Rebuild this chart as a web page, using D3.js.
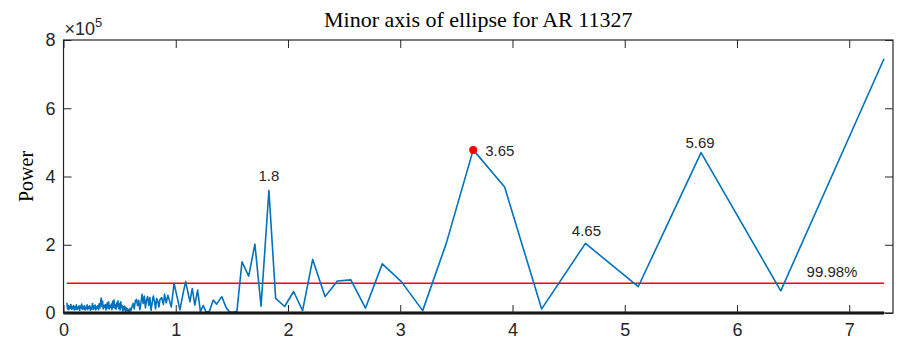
<!DOCTYPE html>
<html>
<head>
<meta charset="utf-8">
<script src="https://cdn.jsdelivr.net/npm/d3@7"></script>
<style>
html,body{margin:0;padding:0;background:#fff;}
svg{display:block;}
</style>
</head>
<body>
<svg id="chart" width="898" height="349"></svg>
<script>
// ---- data (power in units of 1e5) ----
const periods = [
0.030,0.036,0.042,0.048,0.054,0.060,0.066,0.072,0.078,0.084,0.090,0.096,0.102,0.108,0.114,0.120,0.126,0.132,0.138,0.144,
0.150,0.156,0.162,0.168,0.174,0.180,0.186,0.192,0.198,0.204,0.210,0.216,0.222,0.228,0.234,0.240,0.246,0.252,0.258,0.264,
0.270,0.276,0.282,0.288,0.294,0.300,0.306,0.312,0.318,0.324,0.330,0.336,0.342,0.348,0.354,0.360,0.366,0.372,0.378,0.384,
0.390,0.396,0.402,0.408,0.414,0.420,0.426,0.432,0.438,0.444,0.450,0.456,0.462,0.468,0.474,0.480,0.486,0.492,0.498,0.504,
0.510,0.516,0.522,0.528,0.534,0.540,0.546,0.552,0.558,0.564,0.570,0.576,0.582,0.588,0.594,0.600,
0.61,0.62,0.63,0.64,0.65,0.66,0.67,0.68,0.69,0.70,0.71,0.72,0.73,0.74,0.75,0.76,0.77,0.78,0.79,0.80,
0.81,0.82,0.83,0.84,0.85,0.86,0.875,0.89,0.90,0.915,0.93,0.945,0.96,
0.985,1.008,1.037,1.066,1.088,1.11,1.127,1.147,1.17,1.195,1.22,1.245,1.27,1.30,1.334,1.364,1.41,1.45,1.48,1.52,1.545,
1.59,1.65,1.705,1.76,1.83,1.89,1.97,2.05,2.13,2.22,2.33,2.44,2.56,2.69,2.84,3.01,3.20,3.41,3.65,3.93,4.26,4.65,5.12,5.68,6.39,7.31
];
const power = [
0.30,0.12,0.22,0.10,0.20,0.14,0.25,0.11,0.19,0.13,0.22,0.09,0.18,0.12,0.24,0.10,0.17,0.13,0.21,0.08,
0.20,0.15,0.26,0.11,0.18,0.12,0.22,0.09,0.16,0.13,0.24,0.10,0.19,0.14,0.21,0.08,0.17,0.12,0.28,0.11,
0.20,0.13,0.23,0.09,0.18,0.14,0.22,0.10,0.27,0.15,0.30,0.44,0.20,0.35,0.12,0.22,0.16,0.25,0.09,0.19,
0.30,0.14,0.33,0.12,0.21,0.17,0.26,0.10,0.34,0.18,0.38,0.15,0.24,0.11,0.30,0.19,0.36,0.13,0.27,0.09,
0.33,0.16,0.22,0.06,0.18,0.10,0.20,0.04,0.15,0.08,0.12,0.03,0.10,0.05,0.14,0.07,
0.18,0.28,0.12,0.35,0.40,0.22,0.37,0.10,0.30,0.55,0.28,0.50,0.15,0.38,0.48,0.22,0.45,0.08,0.30,0.50,
0.35,0.12,0.42,0.35,0.18,0.40,0.45,0.25,0.55,0.30,0.52,0.35,0.18,
0.87,0.53,0.09,0.58,0.92,0.58,0.33,0.72,0.23,0.67,0.04,0.22,0.03,0.05,0.38,0.26,0.48,0.15,0.03,0.02,0.05,
1.50,1.08,2.02,0.20,3.59,0.43,0.19,0.63,0.07,1.57,0.48,0.94,0.97,0.14,1.44,0.92,0.07,2.04,4.78,3.69,0.12,2.04,0.77,4.70,0.65,7.45
];
const xTicks = [0,1,2,3,4,5,6,7];
const yTicks = [0,2,4,6,8];
const threshold = 0.87;        // 99.98% significance level
const peakPeriods = [1.83, 3.65, 4.65, 5.68];
const peakLabels = ["1.8", "3.65", "4.65", "5.69"];
const thresholdLabel = "99.98%";
const titleText = "Minor axis of ellipse for AR 11327";
const yLabelText = "Power";

// ---- layout ----
const svg = d3.select("#chart");
const L = 63.5, R = 893, T = 40, B = 313;
const x = d3.scaleLinear().domain([0, 7.39]).range([L, R]);
const y = d3.scaleLinear().domain([0, 8]).range([B, T]);
const data = periods.map((p, i) => ({p, v: power[i]}));
const tickFont = "'Liberation Sans', Arial, Helvetica, sans-serif";
const serif = "'Liberation Serif', 'Times New Roman', serif";

// threshold line
svg.append("line")
  .attr("x1", x(periods[0])).attr("x2", x(periods[periods.length-1]))
  .attr("y1", y(threshold)).attr("y2", y(threshold))
  .attr("stroke", "#ff0000").attr("stroke-width", 1.5);

// data line
svg.append("path").datum(data)
  .attr("fill", "none").attr("stroke", "#0072BD").attr("stroke-width", 1.6)
  .attr("stroke-linejoin", "round")
  .attr("d", d3.line().x(d => x(d.p)).y(d => y(d.v)));

// thick zero line
svg.append("line")
  .attr("x1", x(0)).attr("x2", x(periods[periods.length-1]))
  .attr("y1", y(0)).attr("y2", y(0))
  .attr("stroke", "#000").attr("stroke-width", 3);

// axes
function styleAxis(g){
  g.select(".domain").remove();
  g.selectAll(".tick line").attr("stroke", "#262626");
  g.selectAll("text").attr("font-family", tickFont).attr("font-size", 18).attr("fill", "#262626");
}
svg.append("g").attr("transform", `translate(0,${B})`)
  .call(d3.axisBottom(x).tickValues(xTicks).tickFormat(d3.format("d")).tickSizeInner(-8).tickSizeOuter(0).tickPadding(10))
  .call(styleAxis);
svg.append("g").attr("transform", `translate(0,${T})`)
  .call(d3.axisTop(x).tickValues(xTicks).tickFormat("").tickSizeInner(-8).tickSizeOuter(0))
  .call(styleAxis);
svg.append("g").attr("transform", `translate(${L},0)`)
  .call(d3.axisLeft(y).tickValues(yTicks).tickFormat(d3.format("d")).tickSizeInner(-8).tickSizeOuter(0).tickPadding(8))
  .call(styleAxis);
svg.append("g").attr("transform", `translate(${R},0)`)
  .call(d3.axisRight(y).tickValues(yTicks).tickFormat("").tickSizeInner(-8).tickSizeOuter(0))
  .call(styleAxis);

// box
svg.append("rect").attr("x", L).attr("y", T).attr("width", R - L).attr("height", B - T)
  .attr("fill", "none").attr("stroke", "#262626").attr("stroke-width", 1.2);

// exponent
const ex = svg.append("text").attr("x", L + 1).attr("y", 35)
  .attr("font-family", tickFont).attr("font-size", 18).attr("fill", "#262626");
ex.append("tspan").text("\u00d710");
ex.append("tspan").attr("font-size", 13).attr("dy", -8).text("5");

// title
svg.append("text").attr("x", (L + R) / 2).attr("y", 27).attr("text-anchor", "middle")
  .attr("font-family", serif).attr("font-size", 22).attr("fill", "#000").text(titleText);

// y label
svg.append("text").attr("transform", `translate(33,${(T + B) / 2}) rotate(-90)`)
  .attr("text-anchor", "middle").attr("font-family", serif).attr("font-size", 20).attr("fill", "#000")
  .text(yLabelText);

// peak annotations
const pv = p => power[periods.indexOf(p)];
svg.append("circle").attr("cx", x(3.65)).attr("cy", y(pv(3.65))).attr("r", 4).attr("fill", "#ff0000");
const ann = [
  {p: peakPeriods[0], t: peakLabels[0], dx: 0, dy: -9, anchor: "middle"},
  {p: peakPeriods[1], t: peakLabels[1], dx: 12, dy: 6, anchor: "start"},
  {p: peakPeriods[2], t: peakLabels[2], dx: 1, dy: -7, anchor: "middle"},
  {p: peakPeriods[3], t: peakLabels[3], dx: -1, dy: -5, anchor: "middle"}
];
svg.selectAll("text.ann").data(ann).join("text").attr("class", "ann")
  .attr("x", d => x(d.p) + d.dx).attr("y", d => y(pv(d.p)) + d.dy)
  .attr("text-anchor", d => d.anchor)
  .attr("font-family", tickFont).attr("font-size", 15).attr("fill", "#262626")
  .text(d => d.t);
svg.append("text").attr("x", x(6.62)).attr("y", y(threshold) - 6)
  .attr("font-family", tickFont).attr("font-size", 15).attr("fill", "#262626").text(thresholdLabel);
</script>
</body>
</html>
